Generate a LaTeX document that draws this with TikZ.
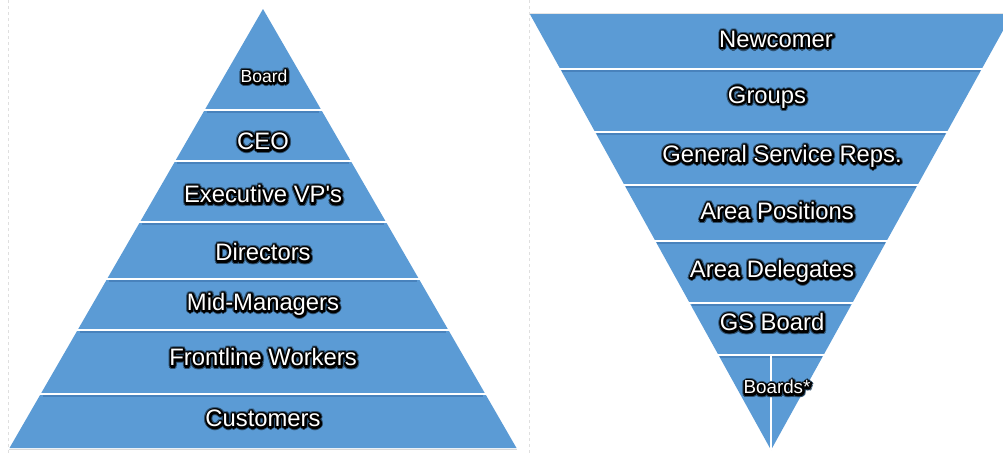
\documentclass[tikz,border=0pt]{standalone}
\usepackage{fontspec}
\setmainfont{Liberation Sans}
\usetikzlibrary{calc}
\definecolor{pyblue}{RGB}{91,155,213}
\definecolor{pyshade}{RGB}{72,130,188}
\newcommand\glowring[3]{%
  \foreach \ang in {0,30,...,330}{%
    \pgfmathsetmacro\gx{#1*cos(\ang)+0.5}%
    \pgfmathsetmacro\gy{#1*sin(\ang)-0.8}%
    \rlap{\hspace*{\gx pt}\raisebox{\gy pt}{\textcolor{#2}{#3}}}}}
\newcommand\glow[1]{\glowring{3.0}{black!50!pyblue}{#1}\glowring{1.9}{black}{#1}\textcolor{white}{#1}}
\begin{document}
\begin{tikzpicture}[x=1pt,y=-1pt,
  lbl/.style={inner sep=0pt, font=\fontsize{23.8}{28}\selectfont},
  lbls/.style={inner sep=0pt, font=\fontsize{17.5}{21}\selectfont},
  sepline/.style={white, line width=2.2pt},
  shadeline/.style={pyshade, line width=1.6pt},
  frameline/.style={gray!25, dashed, line width=0.6pt}]
\useasboundingbox (0,0) rectangle (1003,453);
\clip (0,0) rectangle (1003,453);
\fill[white] (0,0) rectangle (1003,453);
\draw[frameline] (8,0) -- (8,453);
\draw[frameline] (529,0) -- (529,453);
% left pyramid
\coordinate (LA) at (263,9);
\coordinate (LBL) at (9.5,448);
\coordinate (LBR) at (516.5,448);
\fill[pyblue] (LA) -- (LBR) -- (LBL) -- cycle;
\draw[gray!30, line width=1pt] (9,449.5) -- (517,449.5);
\foreach \y in {110,161,222,279,330,394}{
  \draw[shadeline] ({263-(\y-9)*0.5774+2},{\y+2.1}) -- ({263+(\y-9)*0.5774-2},{\y+2.1});
  \draw[sepline] ({263-(\y-9)*0.5774-2},\y) -- ({263+(\y-9)*0.5774+2},\y);
}
% right inverted pyramid
\coordinate (RA) at (771,450);
\coordinate (RTL) at (529.3,13);
\coordinate (RTR) at (1012.7,13);
\fill[pyblue] (RTL) -- (RTR) -- (RA) -- cycle;
\draw[gray!20, line width=0.8pt] (RTL) -- (RTR);
\foreach \y in {69,132,185,241,303,355}{
  \draw[shadeline] ({771-(450-\y)*0.553+2},{\y+2.1}) -- ({771+(450-\y)*0.553-2},{\y+2.1});
  \draw[sepline] ({771-(450-\y)*0.553-2},\y) -- ({771+(450-\y)*0.553+2},\y);
}
\coordinate (RV) at (771,355);
\draw[white, line width=1.5pt] (RV) -- (RA);
% left labels
\node[lbls] (board) at (264,77) {\glow{Board}};
\node[lbl] (ceo) at (263,142) {\glow{CEO}};
\node[lbl] (evp) at (263,195) {\glow{Executive VP\textquotesingle s}};
\node[lbl] (dir) at (263,253) {\glow{Directors}};
\node[lbl] (mid) at (263,305) {\glow{Mid-Managers}};
\node[lbl] (front) at (263,358) {\glow{Frontline Workers}};
\node[lbl] (cust) at (263,419) {\glow{Customers}};
% right labels
\node[lbl] (newc) at (776,40) {\glow{Newcomer}};
\node[lbl] (groups) at (767,98) {\glow{Groups}};
\node[lbl] (gsr) at (782,157) {\glow{General Service Reps.}};
\node[lbl] (apos) at (777,212) {\glow{Area Positions}};
\node[lbl] (adel) at (772,272) {\glow{Area Delegates}};
\node[lbl] (gsb) at (772,323) {\glow{GS Board}};
\node[inner sep=0pt, font=\fontsize{18.8}{22}\selectfont] (boards) at (777,388) {\glow{Boards*}};
\end{tikzpicture}
\end{document}
